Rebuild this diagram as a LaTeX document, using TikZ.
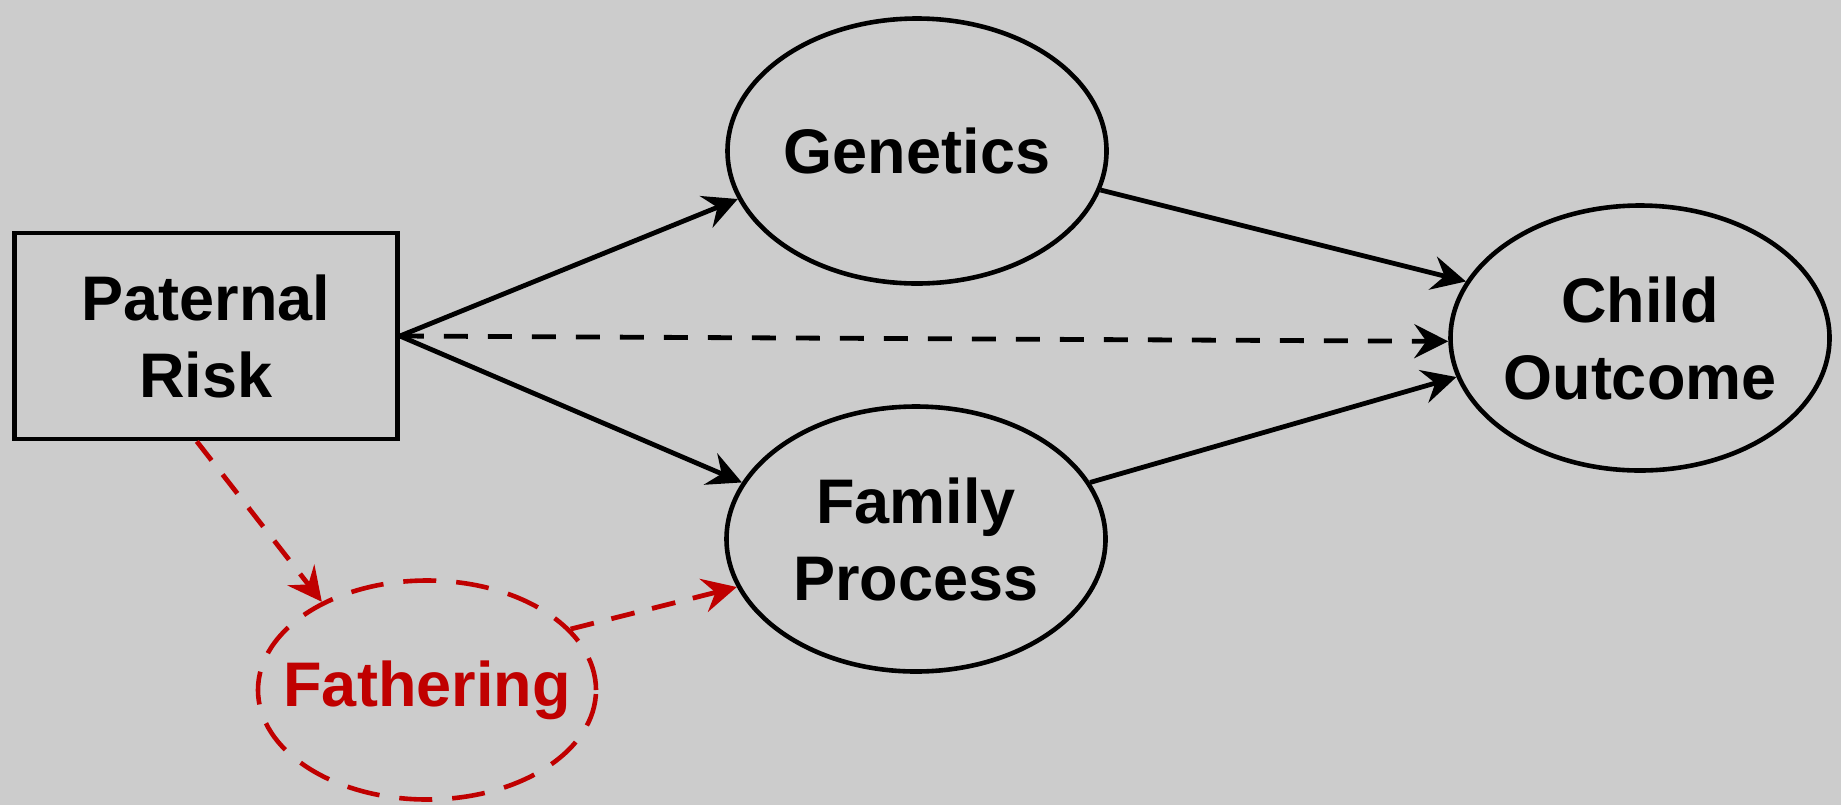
\documentclass[tikz,border=0pt]{standalone}
\usepackage{fontspec}
\setmainfont{Liberation Sans}
\usetikzlibrary{shapes.geometric,arrows.meta}
\definecolor{bggray}{HTML}{CCCCCC}
\definecolor{fathred}{HTML}{C00000}
\begin{document}
\begin{tikzpicture}[x=0.5pt,y=-0.5pt,
every node/.style={font=\bfseries\fontsize{31.5pt}{38.5pt}\selectfont},
square/.style={
% The shape:
rectangle,
draw=black,
line width=2.4pt,
minimum width=191.5pt,
minimum height=103pt,
inner sep=0pt,
align=center
},
oval/.style={
ellipse,
draw=black,
line width=2.3pt,
minimum width=189.5pt,
minimum height=132.5pt,
inner xsep=-15pt,
inner ysep=0pt,
align=center
},
dashoval/.style={
oval,
draw=fathred,
text=fathred,
minimum width=169pt,
minimum height=109.5pt,
dash pattern=on 16.5pt off 10pt
},
arr/.style={-{Stealth[length=17pt,width=17pt,inset=6pt]},line width=2.4pt},
dashline/.style={arr,dash pattern=on 12pt off 10pt},
redline/.style={arr,draw=fathred,dash pattern=on 12pt off 9pt}
]
\path[fill=bggray,use as bounding box] (0,0) rectangle (1841,805);
% Nodes:
\node (risk) [square] at (206,336) {Paternal\\Risk};
\node (genetics) [oval] at (917,151) {Genetics};
\node (family) [oval] at (916,539) {Family\\Process};
\node (outcome) [oval] at (1640,338) {Child\\Outcome};
\node (fathering) [dashoval] at (427,690) {Fathering};
% Paths:
\draw[arr] (risk.east) -- (genetics.195);
\draw[arr] (risk.east) -- (family.162);
\draw[dashline] (risk.east) -- (outcome.181);
\draw[arr] (genetics.-12) -- (outcome.162);
\draw[arr] (family.18) -- (outcome.192);
\draw[redline] (risk.265) -- (fathering.140);
\draw[redline] (fathering.23) -- (family.195);
\end{tikzpicture}
\end{document}
